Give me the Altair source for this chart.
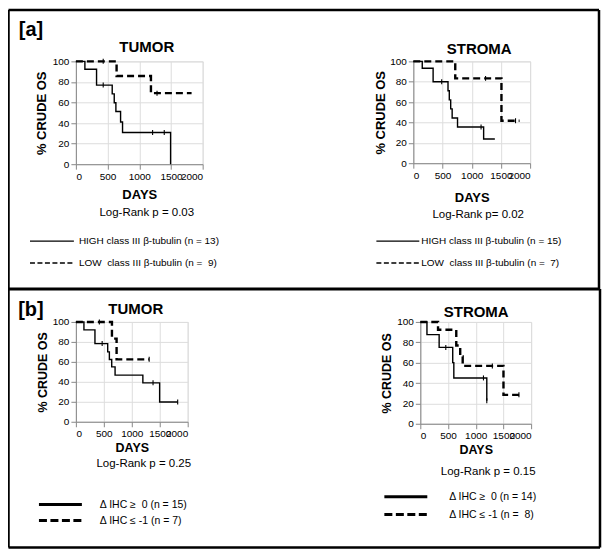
import altair as alt
import pandas as pd

FONT = "Liberation Sans"

X_TICKS = [0, 500, 1000, 1500, 2000]
Y_TICKS = [0, 20, 40, 60, 80, 100]

# ---------------- [a] TUMOR ----------------
a_tumor_high_days = [0, 142, 326, 573, 605, 631, 705, 736, 1494]
a_tumor_high_surv = [100, 92.3, 76.9, 68.4, 59.8, 51.3, 41.0, 30.8, 0]
a_tumor_high_cens_days = [431, 1210, 1394]
a_tumor_high_cens_surv = [76.9, 30.8, 30.8]
a_tumor_low_days = [0, 642, 1184, 1825]
a_tumor_low_surv = [100, 85.7, 69.1, 69.1]
a_tumor_low_cens_days = [431, 1280]
a_tumor_low_cens_surv = [100, 69.1]

# ---------------- [a] STROMA ----------------
a_stroma_high_days = [0, 153, 339, 594, 616, 640, 665, 757, 1204, 1396]
a_stroma_high_surv = [100, 93.3, 80.0, 71.1, 62.2, 53.3, 44.4, 35.6, 23.7, 23.7]
a_stroma_high_cens_days = [486, 1160]
a_stroma_high_cens_surv = [80.0, 35.6]
a_stroma_low_days = [0, 718, 1509, 1819]
a_stroma_low_surv = [100, 83.3, 41.7, 41.7]
a_stroma_low_cens_days = [1237, 1750]
a_stroma_low_cens_surv = [83.3, 41.7]

# ---------------- [b] TUMOR ----------------
b_tumor_high_days = [0, 144, 341, 569, 599, 641, 701, 1198, 1498, 1821]
b_tumor_high_surv = [100, 92.0, 78.3, 70.0, 62.3, 55.0, 46.7, 39.0, 19.8, 19.8]
b_tumor_high_cens_days = [470, 1380, 1821]
b_tumor_high_cens_surv = [78.3, 39.0, 19.8]
b_tumor_low_days = [0, 645, 728, 1311]
b_tumor_low_surv = [100, 83.3, 62.5, 62.5]
b_tumor_low_cens_days = [420, 1311]
b_tumor_low_cens_surv = [100, 62.5]

# ---------------- [b] STROMA ----------------
b_stroma_high_days = [0, 120, 340, 585, 605, 1200]
b_stroma_high_surv = [100, 87.5, 75.0, 60.0, 45.0, 22.5]
b_stroma_high_cens_days = [460, 1140, 1200]
b_stroma_high_cens_surv = [75.0, 45.0, 22.5]
b_stroma_low_days = [0, 320, 649, 720, 765, 1501, 1835]
b_stroma_low_surv = [100, 92.3, 76.9, 66.0, 56.8, 28.4, 28.4]
b_stroma_low_cens_days = [1300, 1780]
b_stroma_low_cens_surv = [56.8, 28.4]

# ---------------- texts ----------------
panel_tags = ["[a]", "[b]"]
panel_titles = ["TUMOR", "STROMA", "TUMOR", "STROMA"]
logrank_texts = ["Log-Rank p = 0.03", "Log-Rank p= 0.02", "Log-Rank p = 0.25", "Log-Rank p = 0.15"]
legend_a_left = ["HIGH class III \u03b2-tubulin (n = 13)", "LOW\u00a0 class III \u03b2-tubulin (n =\u00a0 9)"]
legend_a_right = ["HIGH class III \u03b2-tubulin (n = 15)", "LOW\u00a0 class III \u03b2-tubulin (n =\u00a0 7)"]
legend_b_left = ["\u0394 IHC \u2265\u00a0 0 (n = 15)", "\u0394 IHC \u2264 -1 (n = 7)"]
legend_b_right = ["\u0394 IHC \u2265\u00a0 0 (n = 14)", "\u0394 IHC \u2264 -1 (n =\u00a0 8)"]


def text_layer(label, x, y, size, bold=False, align="center"):
    return alt.Chart(pd.DataFrame({"t": [label]})).mark_text(
        align=align, baseline="middle", fontSize=size,
        fontWeight="bold" if bold else "normal", font=FONT, color="black"
    ).encode(x=alt.value(x), y=alt.value(y), text="t:N")


def rule_layer(x, x2, y, y2, width, dash=None):
    kw = {"strokeDash": dash} if dash else {}
    return alt.Chart(pd.DataFrame({"v": [0]})).mark_rule(
        color="black", strokeWidth=width, **kw
    ).encode(x=alt.value(x), x2=alt.value(x2), y=alt.value(y), y2=alt.value(y2))


def km_panel(high, low, high_cens, low_cens, w, h, solid_w, dash_w, dash,
             xpad, ypad, tsize, extras):
    xs = alt.Scale(domain=[0, 2000], nice=False)
    ys = alt.Scale(domain=[0, 100], nice=False)
    xa = alt.Axis(values=X_TICKS, title="DAYS", titlePadding=xpad, titleFontSize=tsize,
                  labelOverlap=False, format="d")
    ya = alt.Axis(values=Y_TICKS, title="% CRUDE OS", titlePadding=ypad, titleFontSize=tsize,
                  format="d")

    def line(days, surv, **kw):
        return alt.Chart(pd.DataFrame({"days": days, "surv": surv})).mark_line(
            interpolate="step-after", color="black", **kw
        ).encode(x=alt.X("days:Q", scale=xs, axis=xa), y=alt.Y("surv:Q", scale=ys, axis=ya))

    def cens(days, surv):
        return alt.Chart(pd.DataFrame({"days": days, "surv": surv})).mark_point(
            shape="M0,-1L0,1", size=25, color="black", strokeWidth=1.1, filled=False, opacity=1
        ).encode(x=alt.X("days:Q", scale=xs, axis=xa), y=alt.Y("surv:Q", scale=ys, axis=ya))

    layers = [
        line(*high, strokeWidth=solid_w),
        line(*low, strokeWidth=dash_w, strokeDash=dash),
        cens(*high_cens),
        cens(*low_cens),
    ] + extras
    return alt.layer(*layers).properties(width=w, height=h)


FW = 2.5  # frame width
FL, FR = -67.5, 524  # frame left / right, relative to the left plots' origin

# a-left : plot origin (76, 61)
a_left = km_panel(
    (a_tumor_high_days, a_tumor_high_surv), (a_tumor_low_days, a_tumor_low_surv),
    (a_tumor_high_cens_days, a_tumor_high_cens_surv), (a_tumor_low_cens_days, a_tumor_low_cens_surv),
    127, 103, 1.4, 2.4, [7, 4], 7, 4, 13,
    [
        text_layer(panel_tags[0], -45, -31, 20, bold=True),
        text_layer(panel_titles[0], 71, -14, 15, bold=True),
        text_layer(logrank_texts[0], 71, 152, 11.5),
        rule_layer(-46, -2, 180, 180, 1.3),
        rule_layer(-46, -2, 202, 202, 1.6, [5, 2.5]),
        text_layer(legend_a_left[0], 3, 180, 10, align="left"),
        text_layer(legend_a_left[1], 3, 202, 10, align="left"),
        rule_layer(FL, FR, -51.5, -51.5, FW),
        rule_layer(FL, FL, -51.5, 228, FW),
        rule_layer(FR, FR, -51.5, 228, FW),
        rule_layer(FL, FR, 228, 228, 3),
    ],
)

# a-right : plot origin (414, 61)
a_right = km_panel(
    (a_stroma_high_days, a_stroma_high_surv), (a_stroma_low_days, a_stroma_low_surv),
    (a_stroma_high_cens_days, a_stroma_high_cens_surv), (a_stroma_low_cens_days, a_stroma_low_cens_surv),
    117, 102, 1.4, 2.4, [7, 4], 11, 2, 13,
    [
        text_layer(panel_titles[1], 66, -12, 15, bold=True),
        text_layer(logrank_texts[1], 65, 154, 11.5),
        rule_layer(-37, 6, 180, 180, 1.3),
        rule_layer(-37, 6, 202, 202, 1.6, [5, 2.5]),
        text_layer(legend_a_right[0], 8, 180, 10, align="left"),
        text_layer(legend_a_right[1], 8, 202, 10, align="left"),
    ],
)

# b-left : plot origin (76, 322)
b_left = km_panel(
    (b_tumor_high_days, b_tumor_high_surv), (b_tumor_low_days, b_tumor_low_surv),
    (b_tumor_high_cens_days, b_tumor_high_cens_surv), (b_tumor_low_cens_days, b_tumor_low_cens_surv),
    112, 100, 1.4, 2.4, [7, 4], 3, 3, 12.5,
    [
        text_layer(panel_tags[1], -45, -12, 20, bold=True),
        text_layer(panel_titles[2], 60, -13, 15, bold=True),
        text_layer(logrank_texts[2], 68, 142, 11.5),
        rule_layer(-37, 6, 183, 183, 3),
        rule_layer(-37, 6, 199, 199, 3, [8, 3.5]),
        text_layer(legend_b_left[0], 24, 183, 10.5, align="left"),
        text_layer(legend_b_left[1], 24, 199, 10.5, align="left"),
        rule_layer(FL, FL, -33, 226, FW),
        rule_layer(FR + 1, FR + 1, -33, 226, FW),
        rule_layer(FL, FR + 1, 226, 226, FW),
    ],
)

# b-right : plot origin (421, 322)
b_right = km_panel(
    (b_stroma_high_days, b_stroma_high_surv), (b_stroma_low_days, b_stroma_low_surv),
    (b_stroma_high_cens_days, b_stroma_high_cens_surv), (b_stroma_low_cens_days, b_stroma_low_cens_surv),
    111, 102, 1.4, 2.4, [7, 4], 3, 3, 12.5,
    [
        text_layer(panel_titles[3], 56, -10, 15, bold=True),
        text_layer(logrank_texts[3], 68, 150, 11.5),
        rule_layer(-36, 7, 175, 175, 3),
        rule_layer(-36, 7, 193, 193, 3, [8, 3.5]),
        text_layer(legend_b_right[0], 29, 175, 10.5, align="left"),
        text_layer(legend_b_right[1], 29, 193, 10.5, align="left"),
    ],
)

row_a = alt.hconcat(a_left, a_right, spacing=211, bounds="flush")
row_b = alt.hconcat(b_left, b_right, spacing=233, bounds="flush")

# with flush bounds the nested row groups count as zero size,
# so this spacing is the offset between the two rows' plot tops
chart = alt.vconcat(row_a, row_b, spacing=261, bounds="flush").properties(
    padding={"left": -2, "top": -1, "right": 0, "bottom": 0}
).configure_view(stroke=None).configure_axis(
    domainColor="black", tickColor="black", labelColor="black", titleColor="black",
    domainWidth=1.4, tickWidth=1.4, tickSize=4, labelFontSize=11, labelPadding=2,
    titleFontWeight="bold", labelFont=FONT, titleFont=FONT, grid=False
).configure(background="white")

chart.save("out.html", embed_options={"renderer": "svg", "actions": False})
